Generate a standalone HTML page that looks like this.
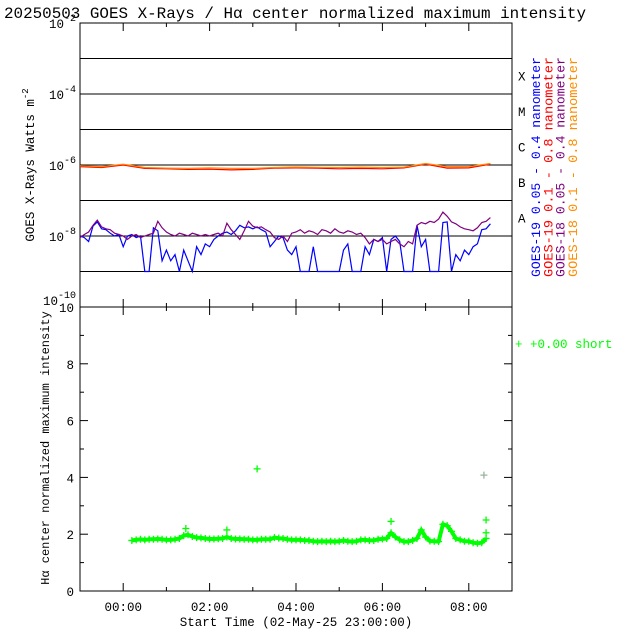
<!DOCTYPE html>
<html><head><meta charset="utf-8"><style>
html,body{margin:0;padding:0;background:#fff;}
svg{display:block;font-family:"Liberation Mono","DejaVu Sans Mono",monospace;}
</style></head><body>
<svg id="c" width="640" height="640" viewBox="0 0 640 640"></svg>
<script>
// ---- data ----
const shortTimesStart = -1.0; // hours, step 0.1
const goes18Short = [0.9e-8,1.1e-8,1.3e-8,2.0e-8,2.8e-8,1.8e-8,1.6e-8,1.5e-8,1.2e-8,1.1e-8,
1.0e-8,0.8e-8,1.0e-8,1.1e-8,0.9e-8,1.0e-8,1.1e-8,1.2e-8,2.6e-8,1.7e-8,
1.3e-8,1.1e-8,1.0e-8,1.2e-8,1.1e-8,1.0e-8,1.2e-8,1.1e-8,1.0e-8,1.1e-8,
1.0e-8,1.1e-8,1.2e-8,1.0e-8,2.3e-8,1.5e-8,1.1e-8,0.8e-8,1.4e-8,2.6e-8,
1.9e-8,1.7e-8,1.8e-8,1.5e-8,1.3e-8,0.9e-8,0.8e-8,1.0e-8,0.7e-8,1.2e-8,
1.3e-8,1.5e-8,1.2e-8,1.4e-8,1.3e-8,1.1e-8,1.5e-8,1.4e-8,1.2e-8,1.6e-8,
1.3e-8,1.2e-8,1.4e-8,1.3e-8,1.1e-8,1.2e-8,0.9e-8,0.6e-8,0.8e-8,0.7e-8,
0.8e-8,0.6e-8,0.7e-8,0.8e-8,0.6e-8,0.5e-8,0.7e-8,0.6e-8,2.0e-8,2.4e-8,
2.2e-8,2.6e-8,2.4e-8,3.0e-8,4.7e-8,3.6e-8,2.5e-8,2.2e-8,1.8e-8,1.6e-8,
1.5e-8,1.4e-8,1.7e-8,2.4e-8,2.6e-8,3.3e-8];
const goes19Short = [1.0e-8,0.9e-8,0.7e-8,1.9e-8,2.5e-8,1.6e-8,1.5e-8,1.2e-8,1.0e-8,1.1e-8,
0.5e-8,1.0e-8,1.1e-8,0.9e-8,1.0e-8,0.1e-8,0.1e-8,1.7e-8,1.4e-8,0.2e-8,
0.4e-8,0.2e-8,0.3e-8,0.1e-8,0.4e-8,0.2e-8,0.1e-8,0.5e-8,0.3e-8,0.6e-8,
0.5e-8,0.8e-8,1.0e-8,1.2e-8,1.3e-8,1.1e-8,1.4e-8,2.0e-8,1.7e-8,1.8e-8,
1.6e-8,1.8e-8,1.5e-8,1.3e-8,0.5e-8,0.7e-8,1.0e-8,0.9e-8,0.4e-8,0.3e-8,
0.5e-8,0.1e-8,0.1e-8,0.1e-8,0.5e-8,0.1e-8,0.1e-8,0.1e-8,0.1e-8,0.1e-8,
0.1e-8,0.4e-8,0.6e-8,0.1e-8,0.1e-8,0.1e-8,0.5e-8,0.3e-8,0.8e-8,0.7e-8,
0.9e-8,0.1e-8,0.8e-8,1.0e-8,0.7e-8,0.1e-8,0.1e-8,0.1e-8,2.0e-8,0.5e-8,
0.8e-8,0.1e-8,0.1e-8,0.1e-8,2.4e-8,2.5e-8,0.1e-8,0.3e-8,0.2e-8,0.4e-8,
0.3e-8,0.5e-8,0.6e-8,1.5e-8,1.6e-8,2.2e-8];
const longTimesStart = -1.0; // step 0.5
const goes18Long = [9.5e-7,9.0e-7,1.05e-6,8.5e-7,8.2e-7,8.0e-7,8.3e-7,8.0e-7,8.0e-7,8.5e-7,8.8e-7,8.6e-7,8.5e-7,8.7e-7,8.5e-7,8.7e-7,1.1e-6,9.0e-7,9.0e-7,1.1e-6];
const goes19Long = [9.0e-7,8.5e-7,1.0e-6,8.0e-7,7.8e-7,7.5e-7,7.6e-7,7.3e-7,7.5e-7,8.2e-7,8.3e-7,8.2e-7,7.8e-7,8.0e-7,7.8e-7,8.3e-7,1.05e-6,8.2e-7,8.3e-7,1.05e-6];
const haTimesStart = 0.2; // step 0.1
const haIntensity = [1.78,1.80,1.82,1.80,1.82,1.82,1.83,1.82,
1.80,1.80,1.82,1.85,1.95,1.98,1.92,1.88,1.87,1.85,
1.83,1.83,1.84,1.85,1.90,1.85,1.83,1.83,1.82,1.82,
1.80,1.80,1.82,1.82,1.82,1.88,1.86,1.85,1.82,1.80,
1.80,1.80,1.78,1.78,1.75,1.74,1.75,1.74,1.75,1.74,
1.75,1.78,1.75,1.74,1.75,1.80,1.80,1.78,1.78,1.82,
1.83,1.85,2.05,1.90,1.80,1.74,1.74,1.78,1.85,2.15,
1.90,1.76,1.75,1.74,2.35,2.30,2.10,1.85,1.80,1.75,
1.75,1.70,1.68,1.70,1.85];
const haExtraT = [1.45,2.4,3.1,6.2,8.4,8.4,8.35];
const haExtraV = [2.2,2.15,4.3,2.45,2.5,2.05,4.08];
const xTickLabels = ["00:00","02:00","04:00","06:00","08:00"];
const xTickHours = [0,2,4,6,8];
const yTopExp = [-2,-4,-6,-8,-10];
const yBotLabels = [0,2,4,6,8,10];
const classLetters = ["X","M","C","B","A"];

// ---- geometry ----
const L=80,R=512,T1=23,B1=307,T2=307,B2=591;
const xS=h=>L+(h+1)*(R-L)/10;
const yTop=v=>T1+(-2-Math.log10(v))*(B1-T1)/8;
const yBot=v=>B2-v*(B2-T2)/10;
const svg=document.getElementById('c');
const NS='http://www.w3.org/2000/svg';
function el(tag,attrs,parent){const e=document.createElementNS(NS,tag);for(const k in attrs)e.setAttribute(k,attrs[k]);(parent||svg).appendChild(e);return e;}
function txt(s,x,y,attrs){const t=el('text',Object.assign({x:x,y:y,'font-size':12.5,fill:'#000'},attrs||{}));t.textContent=s;return t;}

// title
const title=txt("20250503 GOES X-Rays / H\u03b1 center normalized maximum intensity",4,18,{'font-size':15.6,textLength:582,lengthAdjust:'spacingAndGlyphs'});



// top panel decade lines
for(let e=-3;e>=-9;e--){const ln=el('line',{x1:L,x2:R,y1:yTop(Math.pow(10,e)),y2:yTop(Math.pow(10,e)),stroke:'#000','stroke-width':1});

}
// frames
const f1=el('rect',{x:L,y:T1,width:R-L,height:B1-T1,fill:'none',stroke:'#000','stroke-width':1});


const f2=el('rect',{x:L,y:T2,width:R-L,height:B2-T2,fill:'none',stroke:'#000','stroke-width':1});



// x ticks
for(let h=0;h<=8;h++){const major=h%2===0;const len=major?8:4;
[[B1,-1],[T1,1],[B2,-1],[T2,1]].forEach(([y,d])=>{const t=el('line',{x1:xS(h),x2:xS(h),y1:y,y2:y+d*len,stroke:'#000'});

});}
xTickHours.forEach((h,i)=>{const t=txt(xTickLabels[i],xS(h),611,{'text-anchor':'middle'});

});
const xt=txt("Start Time (02-May-25 23:00:00)",296,626,{'text-anchor':'middle'});



// top y ticks
for(let e=-2;e>=-10;e--){const y=yTop(Math.pow(10,e));
const a=el('line',{x1:L,x2:L+5,y1:y,y2:y,stroke:'#000'});
const b=el('line',{x1:R,x2:R-5,y1:y,y2:y,stroke:'#000'});}
yTopExp.forEach(e=>{const y=yTop(Math.pow(10,e));const t=el('text',{x:76,y:e===-10?y-2:y+5,'font-size':12.5,'text-anchor':'end'});
t.innerHTML='10<tspan dy="-7" font-size="10">'+e+'</tspan>';

});
const yt1=el('text',{x:0,y:0,'font-size':12.5,'text-anchor':'middle',transform:'translate(34,165) rotate(-90)'});
yt1.innerHTML='GOES X-Rays Watts m<tspan dy="-6" font-size="9">-2</tspan>';



// class letters
classLetters.forEach((c,i)=>{const t=txt(c,518,yTop(Math.pow(10,-3.5-i))+4);

});

// series
function line(vals,start,step,color,name){const pts=vals.map((v,i)=>xS(start+i*step).toFixed(1)+','+yTop(v).toFixed(1)).join(' ');
const p=el('polyline',{points:pts,fill:'none',stroke:color,'stroke-width':1.2,'stroke-linejoin':'miter'});

}
line(goes19Long,longTimesStart,0.5,'#ff0000','goes19-long-series');
line(goes18Long,longTimesStart,0.5,'#ff8c00','goes18-long-series');
line(goes19Short,shortTimesStart,0.1,'#0000ff','goes19-short-series');
line(goes18Short,shortTimesStart,0.1,'#800080','goes18-short-series');

// legend (rotated)
const legs=[["GOES-19 0.05 - 0.4 nanometer","#0000ff"],["GOES-19 0.1  - 0.8 nanometer","#ff0000"],["GOES-18 0.05 - 0.4 nanometer","#800080"],["GOES-18 0.1  - 0.8 nanometer","#ff8c00"]];
legs.forEach((l,i)=>{const x=540+i*12.3;const t=el('text',{x:0,y:0,'font-size':13,fill:l[1],'xml:space':'preserve',textLength:220,lengthAdjust:'spacingAndGlyphs',transform:'translate('+x+',277) rotate(-90)'});
t.textContent=l[0];

});

// bottom y ticks
for(let v=0;v<=10;v++){const y=yBot(v);const len=v%2===0?8:4;
const a=el('line',{x1:L,x2:L+len,y1:y,y2:y,stroke:'#000'});
const b=el('line',{x1:R,x2:R-len,y1:y,y2:y,stroke:'#000'});}
yBotLabels.forEach(v=>{const t=txt(String(v),74,yBot(v)+5,{'text-anchor':'end'});

});
const yt2=txt("H\u03b1 center normalized maximum intensity",0,0,{'text-anchor':'middle','font-size':12,transform:'translate(49,448) rotate(-90)'});



// halpha band + markers
const band=el('polyline',{points:haIntensity.map((v,i)=>xS(haTimesStart+i*0.1).toFixed(1)+','+yBot(v).toFixed(1)).join(' '),fill:'none',stroke:'#00ff00','stroke-width':4,'stroke-linejoin':'round'});


function plus(x,y,c){const p=el('path',{d:'M'+(x-3.5)+' '+y+'h7M'+x+' '+(y-3.5)+'v7',stroke:c,'stroke-width':1.3});

}
haIntensity.forEach((v,i)=>plus(xS(haTimesStart+i*0.1),yBot(v),'#00ff00'));
haExtraT.forEach((t,i)=>plus(xS(t),yBot(haExtraV[i]),i===6?'#99b399':'#00ff00'));
const lg=txt("+  +0.00 short",515,348,{fill:'#00ff00','xml:space':'preserve'});


</script>
</body></html>
